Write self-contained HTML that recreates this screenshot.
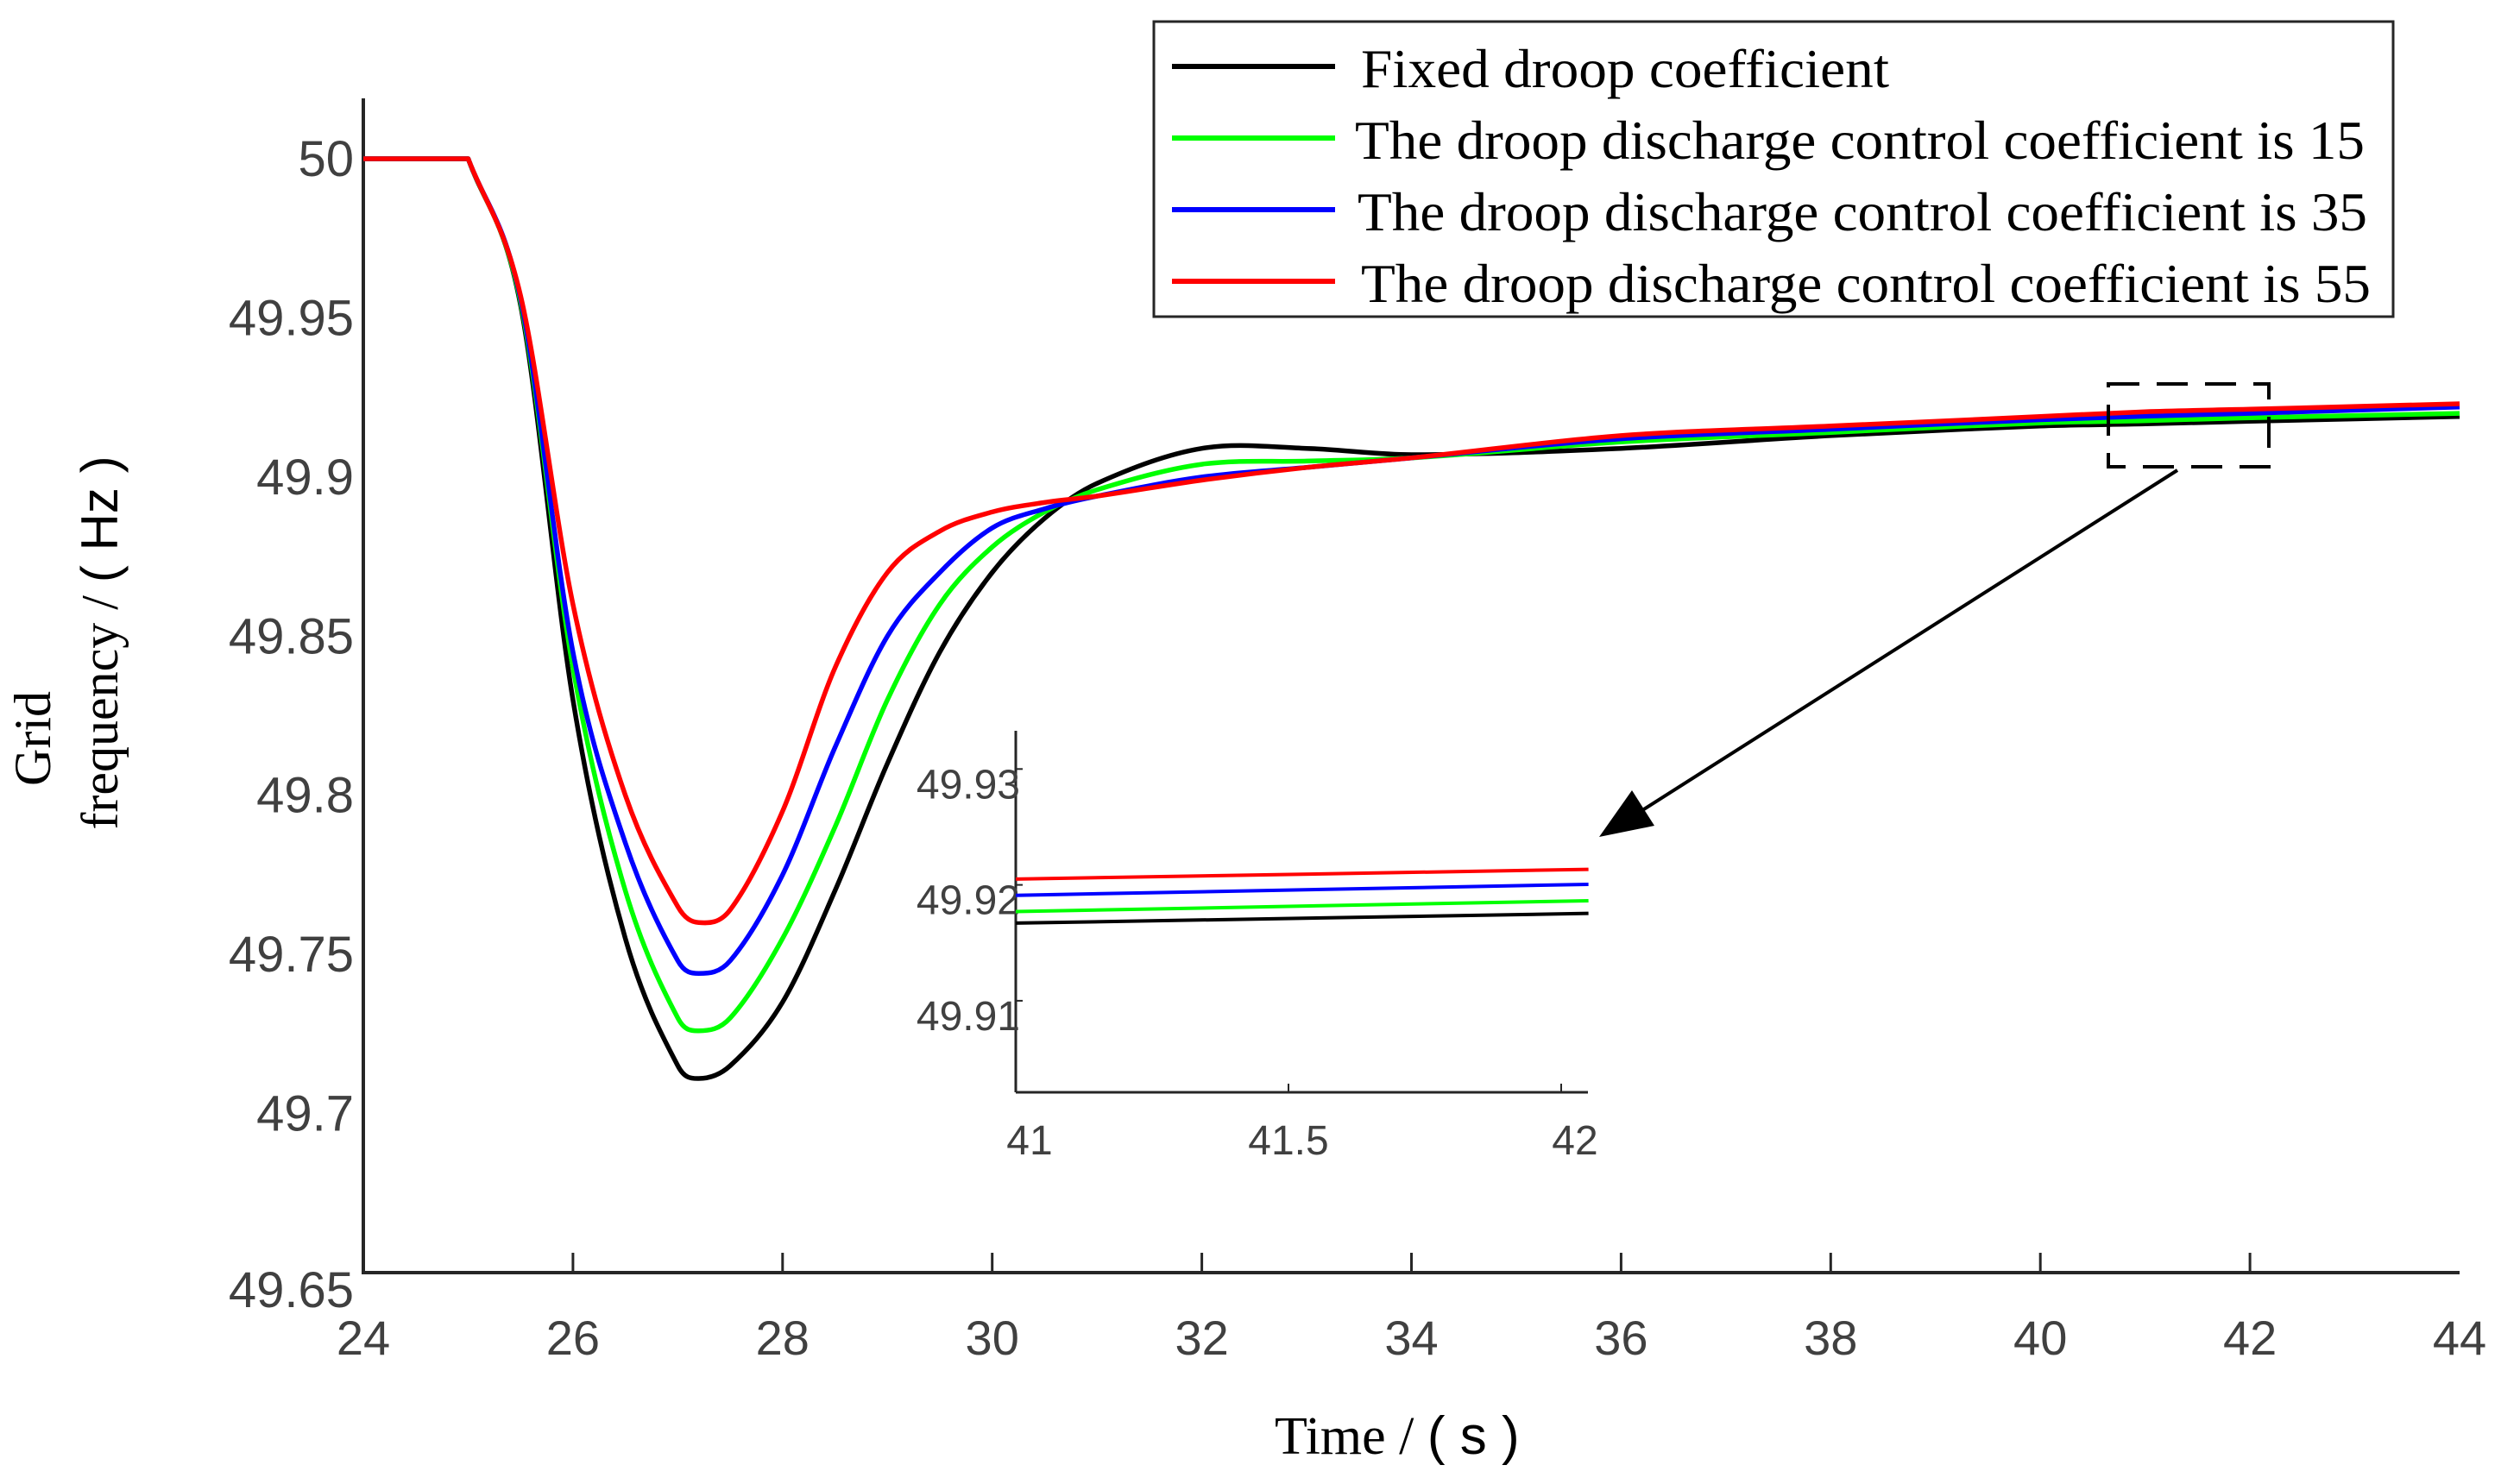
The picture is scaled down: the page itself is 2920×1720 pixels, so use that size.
<!DOCTYPE html>
<html><head><meta charset="utf-8"><style>
html,body{margin:0;padding:0;background:#fff;width:2920px;height:1720px;overflow:hidden}
svg{display:block}
.tk{font-family:"Liberation Sans",sans-serif;fill:#404040}
.sr{font-family:"Liberation Serif",serif;fill:#000}
</style></head><body>
<svg id="chart" width="2920" height="1720" viewBox="0 0 2920 1720" xmlns="http://www.w3.org/2000/svg">
<g id="main"></g>
<g id="inset"></g>
<g id="legend"></g>
</svg>
<script>
const times = [24,25,25.5,26,26.5,27,27.2,27.5,28,28.5,29,29.5,30,30.5,31,32,33,34,36,38,40,41,42,44];
const seriesFixed = [50,50,49.954,49.83,49.755,49.715,49.711,49.715,49.735,49.77,49.81,49.845,49.87,49.887,49.898,49.909,49.909,49.907,49.909,49.913,49.916,49.9167,49.9175,49.919];
const series15 = [50,50,49.955,49.84,49.77,49.73,49.726,49.73,49.755,49.79,49.83,49.86,49.878,49.889,49.896,49.904,49.905,49.906,49.911,49.914,49.917,49.9177,49.9186,49.920];
const series35 = [50,50,49.956,49.845,49.785,49.748,49.744,49.748,49.775,49.815,49.85,49.87,49.884,49.890,49.894,49.900,49.903,49.906,49.912,49.915,49.918,49.9191,49.9200,49.922];
const series55 = [50,50,49.957,49.86,49.80,49.765,49.760,49.764,49.795,49.84,49.87,49.883,49.889,49.892,49.894,49.899,49.903,49.906,49.913,49.916,49.919,49.9205,49.9213,49.923];
const seriesNames = ["Fixed droop coefficient","The droop discharge control coefficient is 15","The droop discharge control coefficient is 35","The droop discharge control coefficient is 55"];
const seriesColors = ["#000000","#00ff00","#0000ff","#ff0000"];
const xTicks = [24,26,28,30,32,34,36,38,40,42,44];
const yTicks = [49.65,49.7,49.75,49.8,49.85,49.9,49.95,50];
const yTickLabels = ["49.65","49.7","49.75","49.8","49.85","49.9","49.95","50"];
const insetXTicks = [41,41.5,42];
const insetXTickLabels = ["41","41.5","42"];
const insetYTicks = [49.91,49.92,49.93];
const allSeries = [seriesFixed,series15,series35,series55];

const NS="http://www.w3.org/2000/svg";
function mk(tag,attrs,parent){const e=document.createElementNS(NS,tag);for(const k in attrs)e.setAttribute(k,attrs[k]);parent.appendChild(e);return e;}
const X=t=>421+(t-24)*(2850-421)/20;
const Y=v=>184+(50-v)*(1475-184)/0.35;
const IX=t=>1177+(t-41)*(1809-1177);
const IY=v=>847+(49.9333-v)*(1266-847)/(49.9333-49.9021);

function seriesPath(s){
  const n=times.length;
  const m=[];
  for(let i=0;i<n;i++){
    if(i===0) m.push(0);
    else if(i===1) m.push((s[2]-s[1])/(times[2]-times[1]));
    else if(i===n-1) m.push((s[i]-s[i-1])/(times[i]-times[i-1]));
    else m.push((s[i+1]-s[i-1])/(times[i+1]-times[i-1]));
  }
  let d="M"+X(times[0]).toFixed(1)+","+Y(s[0]).toFixed(1)+" L"+X(times[1]).toFixed(1)+","+Y(s[1]).toFixed(1);
  for(let i=1;i<n-1;i++){
    const h=times[i+1]-times[i];
    const ta=times[i]+h/3, va=s[i]+m[i]*h/3;
    const tb=times[i+1]-h/3, vb=s[i+1]-m[i+1]*h/3;
    d+=" C"+X(ta).toFixed(1)+","+Y(va).toFixed(1)+" "+X(tb).toFixed(1)+","+Y(vb).toFixed(1)+" "+X(times[i+1]).toFixed(1)+","+Y(s[i+1]).toFixed(1);
  }
  return d;
}
const main=document.getElementById('main');
let el=mk('line',{x1:421,y1:114,x2:421,y2:1475,stroke:'#262626','stroke-width':4},main);


el=mk('line',{x1:419,y1:1475,x2:2850,y2:1475,stroke:'#262626','stroke-width':4},main);


xTicks.forEach((t,i)=>{
  if(i>0&&i<xTicks.length-1){const tl=mk('line',{x1:X(t),y1:1475,x2:X(t),y2:1452,stroke:'#262626','stroke-width':3},main);
  
  }
  const tx=mk('text',{x:X(t),y:1570,'text-anchor':'middle','font-size':56,class:'tk'},main);
  tx.textContent=String(t);
  
  
});
yTicks.forEach((v,i)=>{
  const tx=mk('text',{x:410,y:Y(v)+(i===0?40:20),'text-anchor':'end','font-size':58,class:'tk'},main);
  tx.textContent=yTickLabels[i];
  
  
});
allSeries.forEach((s,k)=>{
  const p=mk('path',{d:seriesPath(s),fill:'none',stroke:seriesColors[k],'stroke-width':5.5,'stroke-linejoin':'round'},main);
  
  
});
el=mk('text',{x:1477,y:1685,'font-size':62},main);
el.innerHTML='<tspan class="sr">Time / </tspan><tspan style="font-family:Liberation Sans,sans-serif;fill:#000">( s )</tspan>';


el=mk('text',{x:0,y:0,'font-size':60,class:'sr',transform:'translate(58,856) rotate(-90)','text-anchor':'middle'},main);
el.textContent='Grid';


el=mk('text',{x:0,y:0,'font-size':60,transform:'translate(136,745) rotate(-90)','text-anchor':'middle'},main);
el.innerHTML='<tspan class="sr">frequency / </tspan><tspan style="font-family:Liberation Sans,sans-serif">( Hz )</tspan>';


el=mk('rect',{x:2443,y:445,width:186,height:96,fill:'none',stroke:'#000','stroke-width':4,'stroke-dasharray':'36,20'},main);


el=mk('line',{x1:2523,y1:545,x2:1900,y2:941},main);
el.setAttribute('stroke','#000');el.setAttribute('stroke-width','4');


el=mk('polygon',{points:'1853,970 1891,916 1917,957',fill:'#000'},main);


const inset=document.getElementById('inset');
el=mk('rect',{x:1177,y:847,width:670,height:419,fill:'#fff'},inset);


el=mk('line',{x1:1177,y1:847,x2:1177,y2:1266,stroke:'#262626','stroke-width':3},inset);


el=mk('line',{x1:1177,y1:1266,x2:1840,y2:1266,stroke:'#262626','stroke-width':3},inset);


insetXTicks.forEach((t,i)=>{
  const tl=mk('line',{x1:IX(t),y1:1266,x2:IX(t),y2:1256,stroke:'#262626','stroke-width':2},inset);
  
  
  const tx=mk('text',{x:IX(t)+(i===0?16:(i===2?16:0)),y:1338,'text-anchor':'middle','font-size':48,class:'tk'},inset);
  tx.textContent=insetXTickLabels[i];
  
  
});
insetYTicks.forEach(v=>{
  const tl=mk('line',{x1:1177,y1:IY(v),x2:1185,y2:IY(v),stroke:'#262626','stroke-width':2},inset);
  
  
  const tx=mk('text',{x:1182,y:IY(v)+34,'text-anchor':'end','font-size':48,class:'tk'},inset);
  tx.textContent=v.toFixed(2);
  
  
});
function interp(s,t){for(let i=0;i<times.length-1;i++){if(t>=times[i]&&t<=times[i+1]){const f=(t-times[i])/(times[i+1]-times[i]);return s[i]+f*(s[i+1]-s[i]);}}return s[s.length-1];}
allSeries.forEach((s,k)=>{
  const t0=41,t1=42.05;
  const p=mk('line',{x1:IX(t0),y1:IY(interp(s,t0)),x2:IX(t1),y2:IY(interp(s,t1)),stroke:seriesColors[k],'stroke-width':4},inset);
  
  
});
const lg=document.getElementById('legend');
el=mk('rect',{x:1337,y:25,width:1436,height:342,fill:'#fff',stroke:'#262626','stroke-width':3},lg);


const ly=[81,164,247,330];
const lx=[1577,1570,1573,1577];
const lw=[612,1170,1170,1170];
seriesNames.forEach((n,k)=>{
  const ln=mk('line',{x1:1358,y1:ly[k]-4,x2:1547,y2:ly[k]-4,stroke:seriesColors[k],'stroke-width':6},lg);
  
  
  const tx=mk('text',{x:lx[k],y:ly[k]+20,'font-size':64,class:'sr',textLength:lw[k],lengthAdjust:'spacingAndGlyphs'},lg);
  tx.textContent=n;
  
  
});
</script>
</body></html>
